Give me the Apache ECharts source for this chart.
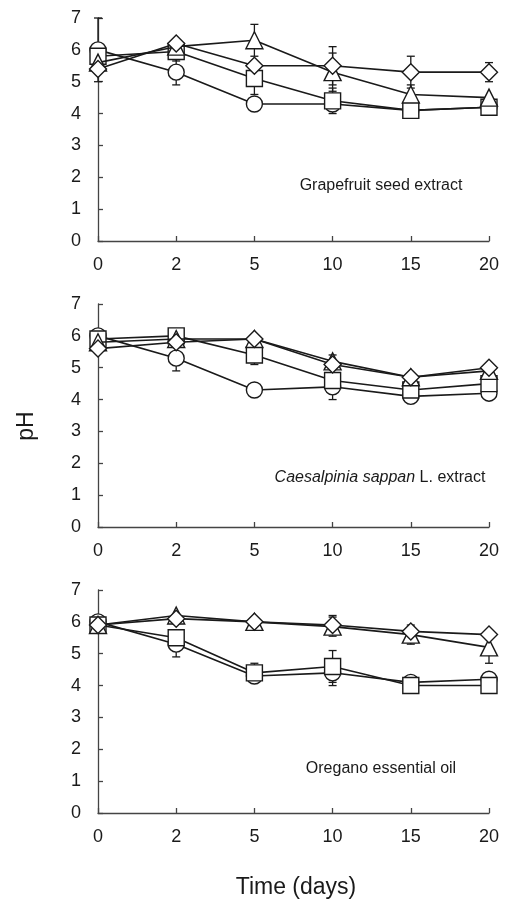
<!DOCTYPE html>
<html>
<head>
<meta charset="utf-8">
<script src="https://cdn.jsdelivr.net/npm/echarts@6/dist/echarts.min.js"></script>
<style>html,body{margin:0;padding:0;background:#fff}#c{width:508px;height:903px}</style>
</head>
<body>
<div id="c"></div>
<script>
// ---- Data ----
var days = ['0', '2', '5', '10', '15', '20'];
var yTicks = [0, 1, 2, 3, 4, 5, 6, 7];
var panelTitles = ['Grapefruit seed extract', 'Caesalpinia sappan L. extract', 'Oregano essential oil'];

// Grapefruit seed extract
var gCircle   = [6.0, 5.3, 4.3, 4.3, 4.1, 4.2];
var gSquare   = [5.8, 5.95, 5.1, 4.4, 4.1, 4.2];
var gTriangle = [5.6, 6.1, 6.3, 5.3, 4.6, 4.5];
var gDiamond  = [5.4, 6.2, 5.5, 5.5, 5.3, 5.3];
var gCircleErr   = [1.0, 0.4, 0, 0, 0, 0];
var gSquareErr   = [0, 0.3, 0.5, 0.4, 0, 0];
var gTriangleErr = [0, 0, 0.5, 0.6, 0.3, 0];
var gDiamondErr  = [0, 0, 0, 0.6, 0.5, 0.3];

// Caesalpinia sappan L. extract
var cCircle   = [6.0, 5.3, 4.3, 4.4, 4.1, 4.2];
var cSquare   = [5.9, 6.0, 5.4, 4.6, 4.3, 4.5];
var cTriangle = [5.8, 5.9, 5.9, 5.2, 4.7, 4.9];
var cDiamond  = [5.6, 5.8, 5.9, 5.1, 4.7, 5.0];
var cCircleErr   = [0, 0.4, 0, 0.4, 0, 0];
var cSquareErr   = [0, 0, 0.3, 0, 0, 0];
var cTriangleErr = [0, 0, 0, 0.2, 0, 0];
var cDiamondErr  = [0, 0, 0, 0, 0, 0];

// Oregano essential oil
var oCircle   = [6.0, 5.3, 4.3, 4.4, 4.1, 4.2];
var oSquare   = [5.9, 5.5, 4.4, 4.6, 4.0, 4.0];
var oTriangle = [5.9, 6.2, 6.0, 5.85, 5.6, 5.2];
var oDiamond  = [5.9, 6.1, 6.0, 5.9, 5.7, 5.6];
var oCircleErr   = [0, 0.4, 0, 0.4, 0, 0];
var oSquareErr   = [0, 0, 0.3, 0.5, 0, 0];
var oTriangleErr = [0, 0, 0, 0.3, 0.3, 0.5];
var oDiamondErr  = [0, 0, 0, 0.3, 0, 0];

var panels = [
  {vals: [gCircle, gSquare, gTriangle, gDiamond], errs: [gCircleErr, gSquareErr, gTriangleErr, gDiamondErr]},
  {vals: [cCircle, cSquare, cTriangle, cDiamond], errs: [cCircleErr, cSquareErr, cTriangleErr, cDiamondErr]},
  {vals: [oCircle, oSquare, oTriangle, oDiamond], errs: [oCircleErr, oSquareErr, oTriangleErr, oDiamondErr]}
];

// ---- Styling ----
var INK = '#1a1a1a';
var AX = '#444';
var FONT = 'Liberation Sans, Arial, sans-serif';
var symbols = ['circle', 'rect', 'triangle', 'diamond'];
var symSizes = [16, 16, [17, 17], [17, 17]];
var grids = [
  {left: 98, right: 19, top: 18, height: 223},
  {left: 98, right: 19, top: 304, height: 223},
  {left: 98, right: 19, top: 590, height: 223}
];

var xAxes = [], yAxes = [], series = [];
grids.forEach(function (g, p) {
  xAxes.push({
    type: 'category', gridIndex: p, data: days, boundaryGap: false,
    axisLine: {lineStyle: {color: AX, width: 1.3}},
    axisTick: {inside: true, length: 5, alignWithLabel: true, lineStyle: {color: AX, width: 1.3}},
    axisLabel: {color: INK, fontSize: 18, fontFamily: FONT, margin: 15},
    splitLine: {show: false}
  });
  yAxes.push({
    type: 'value', gridIndex: p, min: yTicks[0], max: yTicks[yTicks.length - 1], interval: 1,
    axisLine: {show: true, lineStyle: {color: AX, width: 1.3}},
    axisTick: {show: true, inside: true, length: 5, lineStyle: {color: AX, width: 1.3}},
    axisLabel: {color: INK, fontSize: 18, fontFamily: FONT, margin: 17},
    splitLine: {show: false}
  });
  var pd = panels[p];
  // error bars (behind markers)
  pd.vals.forEach(function (arr, s) {
    var ed = arr.map(function (v, i) { return [i, v, pd.errs[s][i]]; }).filter(function (d) { return d[2] > 0; });
    series.push({
      type: 'custom', xAxisIndex: p, yAxisIndex: p, z: 1, silent: true,
      data: ed,
      renderItem: function (params, api) {
        var i = api.value(0), m = api.value(1), e = api.value(2);
        var top = api.coord([i, m + e]);
        var bot = api.coord([i, m - e]);
        var w = 4;
        var st = {stroke: INK, lineWidth: 1.3, fill: null};
        return {type: 'group', children: [
          {type: 'line', shape: {x1: top[0], y1: top[1], x2: bot[0], y2: bot[1]}, style: st},
          {type: 'line', shape: {x1: top[0] - w, y1: top[1], x2: top[0] + w, y2: top[1]}, style: st},
          {type: 'line', shape: {x1: bot[0] - w, y1: bot[1], x2: bot[0] + w, y2: bot[1]}, style: st}
        ]};
      }
    });
  });
  pd.vals.forEach(function (arr, s) {
    series.push({
      type: 'line', xAxisIndex: p, yAxisIndex: p, z: 2 + s,
      data: arr, symbol: symbols[s], symbolSize: symSizes[s], showAllSymbol: true,
      lineStyle: {color: INK, width: 1.6},
      itemStyle: {color: '#fff', borderColor: INK, borderWidth: 1.4},
      emphasis: {disabled: true}, animation: false
    });
  });
});

var chart = echarts.init(document.getElementById('c'), null, {renderer: 'canvas'});
chart.setOption({
  backgroundColor: '#fff',
  animation: false,
  grid: grids,
  xAxis: xAxes,
  yAxis: yAxes,
  series: series,
  graphic: [
    {type: 'text', x: 381, y: 186, style: {text: panelTitles[0], fill: INK, fontSize: 16, fontFamily: FONT, align: 'center', verticalAlign: 'middle'}},
    {type: 'text', x: 380, y: 478, style: {
      text: '{i|Caesalpinia sappan} L. extract', fill: INK, fontSize: 16, fontFamily: FONT, align: 'center', verticalAlign: 'middle',
      rich: {i: {fontStyle: 'italic', fontSize: 16, fontFamily: FONT, fill: INK}}}},
    {type: 'text', x: 381, y: 769, style: {text: panelTitles[2], fill: INK, fontSize: 16, fontFamily: FONT, align: 'center', verticalAlign: 'middle'}},
    {type: 'text', x: 27, y: 426, rotation: Math.PI / 2, style: {text: 'pH', fill: INK, fontSize: 23, fontFamily: FONT, align: 'center', verticalAlign: 'middle'}},
    {type: 'text', x: 296, y: 888, style: {text: 'Time (days)', fill: INK, fontSize: 23, fontFamily: FONT, align: 'center', verticalAlign: 'middle'}}
  ]
});
</script>
</body>
</html>
